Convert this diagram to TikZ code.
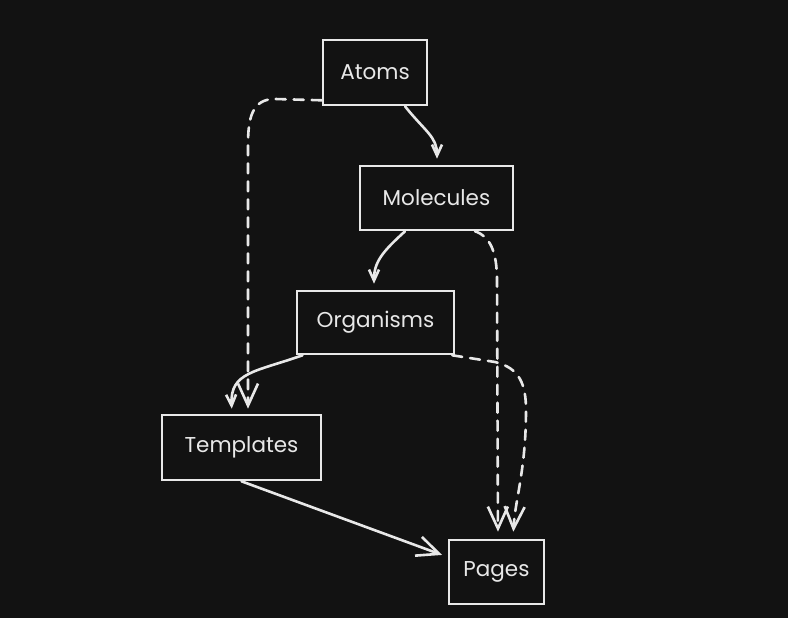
\documentclass[tikz,border=0pt]{standalone}
\usepackage{fontspec}
\setmainfont{Poppins}
\usetikzlibrary{arrows.meta}
\definecolor{bg}{HTML}{121212}
\definecolor{ink}{HTML}{E8E8E8}
\begin{document}
\begin{tikzpicture}[x=1pt,y=-1pt,
  box/.style={draw=ink, line width=2.6pt, inner sep=0pt, text=ink,
    font=\fontsize{21.5}{24}\selectfont},
  arr/.style={draw=ink, line width=2.6pt, line cap=round, line join=round,
    -{Straight Barb[length=22pt,width=20pt,line width=2.6pt]}},
  smallarr/.style={draw=ink, line width=2.6pt, line cap=round, line join=round,
    -{Straight Barb[length=11pt,width=10pt,line width=2.6pt]}},
  dsh/.style={dash pattern=on 10pt off 8pt}]
\fill[bg] (0,0) rectangle (788,618);
\useasboundingbox (0,0) rectangle (788,618);

\node[box, minimum width=104pt, minimum height=65pt] (A) at (375,72.5) {Atoms};
\node[box, minimum width=153pt, minimum height=64pt] (M) at (436.5,198) {Molecules};
\node[box, minimum width=157pt, minimum height=63pt] (O) at (375.5,322.5) {Organisms};
\node[box, minimum width=159pt, minimum height=65pt] (T) at (241.5,447.5) {Templates};
\node[box, minimum width=95pt, minimum height=64pt] (P) at (496.5,572) {Pages};

% Atoms -> Molecules
\draw[smallarr, shorten >=6pt] ([xshift=30pt]A.south) .. controls +(20,25) and +(0,-28) .. ([xshift=0.5pt]M.north);
% Molecules -> Organisms
\draw[smallarr, shorten >=6pt] ([xshift=-31.5pt]M.south) .. controls +(-22,20) and +(0,-28) .. ([xshift=-1.5pt]O.north);
% Atoms -> Templates (dashed)
\draw[arr, dsh, shorten >=5pt] ([yshift=6pt]A.south west) -- (275,99) .. controls (252,99) and (248,118) .. (248,145) -- ([xshift=6.5pt]T.north);
% Molecules -> Pages (dashed)
\draw[arr, dsh, shorten >=7pt] ([xshift=38.5pt]M.south) .. controls (490,236) and (497,252) .. (497,280) -- ([xshift=1.5pt]P.north);
% Organisms -> Pages (dashed)
\draw[arr, dsh, shorten >=7pt] ([xshift=-3pt]O.south east) -- (495,362) .. controls (520,368) and (526,385) .. (526,410) .. controls (526,470) and (515,500) .. ([xshift=16.5pt]P.north);
% Organisms -> Templates
\draw[smallarr, shorten >=5pt] ([xshift=-73pt]O.south) .. controls (255,372) and (230,372) .. ([xshift=-9.5pt]T.north);
% Templates -> Pages
\draw[arr, shorten >=6pt] (T.south) -- ([yshift=15pt]P.west);
\end{tikzpicture}
\end{document}
